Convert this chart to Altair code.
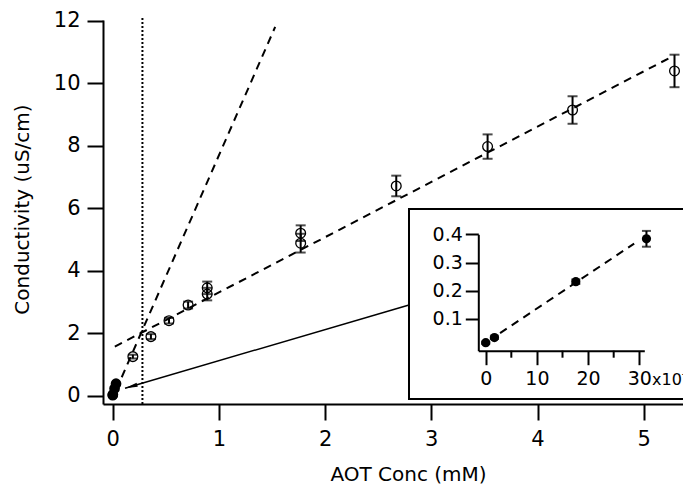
import altair as alt
import pandas as pd

# ---------------- data ----------------
# main series, open circles (AOT conc mM, conductivity uS/cm)
open_x = [0.19, 0.36, 0.53, 0.71, 0.89, 0.89, 1.77, 1.77, 2.67, 3.53, 4.33, 5.29]
open_y = [1.25, 1.89, 2.40, 2.90, 3.45, 3.25, 5.20, 4.88, 6.71, 7.97, 9.14, 10.39]
open_err = [0.06, 0.08, 0.09, 0.11, 0.20, 0.20, 0.25, 0.30, 0.33, 0.39, 0.44, 0.52]

# low-concentration series, filled circles (x in units of 1e-3 mM)
low_x = [0.0, 1.7, 17.6, 31.4]
low_y = [0.016, 0.034, 0.232, 0.384]
low_err = [0.004, 0.005, 0.008, 0.028]

# fitted lines (end points)
steep_x = [0.085, 1.53]
steep_y = [0.59, 11.8]
shallow_x = [0.02, 5.24]
shallow_y = [1.57, 10.8]
inset_fit_x = [2.8, 29.0]
inset_fit_y = [0.05, 0.367]

cmc_x = [0.28]

main_x_ticks = [0, 1, 2, 3, 4, 5]
main_y_ticks = [0, 2, 4, 6, 8, 10, 12]
inset_x_ticks = [0, 10, 20, 30]
inset_x_minor = [5, 15, 25]
inset_y_ticks = [0.1, 0.2, 0.3, 0.4]

# annotation anchors (data units of the main axes)
inset_box_x = [2.79]
inset_box_y = [5.97, -0.11]
arrow_x = [2.79, 0.116]
arrow_y = [2.90, 0.24]

# ---------------- layout ----------------
FONT = "DejaVu Sans"
W, H = 580, 384
X_DOM = [-0.0913, 5.37]
Y_DOM = [-0.266, 12.02]
IX_DOM = [-1.45, 30.98]
IY_DOM = [-0.0124, 0.4]
IX_RANGE = [375.3, 541.3]
IY_RANGE = [330.7, 214.3]

xs = alt.Scale(domain=X_DOM, nice=False, zero=False)
ys = alt.Scale(domain=Y_DOM, nice=False, zero=False)
ixs = alt.Scale(domain=IX_DOM, range=IX_RANGE, nice=False, zero=False)
iys = alt.Scale(domain=IY_DOM, range=IY_RANGE, nice=False, zero=False)

axis_common = dict(grid=False, domainColor="black", domainWidth=2, tickColor="black",
                   tickWidth=2, labelColor="black", labelFont=FONT, titleFont=FONT,
                   titleColor="black", titleFontWeight="normal")

main_xaxis = alt.Axis(values=main_x_ticks, tickSize=16, labelFontSize=21, labelPadding=8,
                      titleFontSize=20, titleX=305, titleY=76, titleBaseline="alphabetic",
                      orient="bottom", **axis_common)
main_yaxis = alt.Axis(values=main_y_ticks, tickSize=16, labelFontSize=21, labelPadding=7,
                      titleFontSize=20, titleX=-75, titleY=189, titleBaseline="alphabetic",
                      orient="left", **axis_common)
inset_xaxis = alt.Axis(values=inset_x_ticks, tickSize=14, labelFontSize=19, labelPadding=5,
                       orient="bottom", offset=-(H + 20 - 350.7), zindex=2, **axis_common)
inset_yaxis = alt.Axis(values=inset_y_ticks, tickSize=13, labelFontSize=19, labelPadding=3,
                       orient="left", offset=-IX_RANGE[0], zindex=2, **axis_common)

X_TITLE = "AOT Conc (mM)"
Y_TITLE = "Conductivity (uS/cm)"


def mx(f):
    return alt.X(f, type="quantitative", scale=xs, axis=main_xaxis, title=X_TITLE)


def my(f):
    return alt.Y(f, type="quantitative", scale=ys, axis=main_yaxis, title=Y_TITLE)


def ix(f):
    return alt.X(f, type="quantitative", scale=ixs, axis=inset_xaxis, title=None)


def iy(f):
    return alt.Y(f, type="quantitative", scale=iys, axis=inset_yaxis, title=None)


open_df = pd.DataFrame({"x": open_x, "y": open_y,
                        "lo": [a - b for a, b in zip(open_y, open_err)],
                        "hi": [a + b for a, b in zip(open_y, open_err)]})
low_main_df = pd.DataFrame({"x": [v * 1e-3 for v in low_x], "y": low_y})
low_df = pd.DataFrame({"x": low_x, "y": low_y,
                       "lo": [a - b for a, b in zip(low_y, low_err)],
                       "hi": [a + b for a, b in zip(low_y, low_err)]})

base_main = alt.Chart(open_df)

cmc = alt.Chart(pd.DataFrame({"x": cmc_x, "y": [Y_DOM[0]], "y2": [Y_DOM[1] + 0.08]})).mark_rule(
    color="black", strokeWidth=2, strokeDash=[2, 2]
).encode(x=mx("x"), y=my("y"), y2="y2:Q")


def dashed(xv, yv):
    return alt.Chart(pd.DataFrame({"x": xv, "y": yv})).mark_line(
        color="black", strokeWidth=2, strokeDash=[8, 6]
    ).encode(x=mx("x"), y=my("y"))


steep = dashed(steep_x, steep_y)
shallow = dashed(shallow_x, shallow_y)

bars = base_main.mark_rule(color="black", strokeWidth=2).encode(x=mx("x"), y=my("lo"), y2="hi:Q")
caps_hi = base_main.mark_tick(color="black", orient="horizontal", size=10, thickness=2).encode(
    x=mx("x"), y=my("hi"))
caps_lo = base_main.mark_tick(color="black", orient="horizontal", size=10, thickness=2).encode(
    x=mx("x"), y=my("lo"))
opens = base_main.mark_point(shape="circle", filled=False, color="black", size=95,
                             strokeWidth=1.3, opacity=1).encode(x=mx("x"), y=my("y"))

low_main = alt.Chart(low_main_df).mark_circle(color="black", size=115, opacity=1).encode(
    x=mx("x"), y=my("y"))

box = alt.Chart(pd.DataFrame({"x": inset_box_x, "x2": [X_DOM[1] + 0.3],
                              "y": [inset_box_y[0]], "y2": [inset_box_y[1]]})).mark_rect(
    fill="white", stroke="black", strokeWidth=2
).encode(x=mx("x"), x2="x2:Q", y=my("y"), y2="y2:Q")

arrow_df = pd.DataFrame({"x": arrow_x, "y": arrow_y, "o": [0, 1]})
arrow_line = alt.Chart(arrow_df).mark_line(color="black", strokeWidth=1.5).encode(
    x=mx("x"), y=my("y"), order="o:Q")
arrow_head = alt.Chart(arrow_df.iloc[[1]]).mark_point(
    shape="M0,0L0.34,2L-0.34,2Z", filled=True, color="black", size=160, angle=254, opacity=1
).encode(x=mx("x"), y=my("y"))

main = alt.layer(cmc, steep, shallow, bars, caps_hi, caps_lo, opens,
                 low_main, box, arrow_line, arrow_head)

# ---------------- inset ----------------
ibase = alt.Chart(low_df)
ifit = alt.Chart(pd.DataFrame({"x": inset_fit_x, "y": inset_fit_y})).mark_line(
    color="black", strokeWidth=2, strokeDash=[8, 6]
).encode(x=ix("x"), y=iy("y"))
ibars = ibase.mark_rule(color="black", strokeWidth=2).encode(x=ix("x"), y=iy("lo"), y2="hi:Q")
icaps_hi = ibase.mark_tick(color="black", orient="horizontal", size=9, thickness=2).encode(
    x=ix("x"), y=iy("hi"))
icaps_lo = ibase.mark_tick(color="black", orient="horizontal", size=9, thickness=2).encode(
    x=ix("x"), y=iy("lo"))
ipts = ibase.mark_circle(color="black", size=85, opacity=1).encode(x=ix("x"), y=iy("y"))
iminor = alt.Chart(pd.DataFrame({"x": inset_x_minor})).mark_rule(color="black", strokeWidth=2).encode(
    x=ix("x"), y=alt.value(IY_RANGE[0]), y2=alt.value(IY_RANGE[0] + 7))
ilabel = alt.Chart(pd.DataFrame({"x": [IX_DOM[1] + 1.5], "y": [IY_DOM[0]], "t": ["x10"]})).mark_text(
    align="left", baseline="alphabetic", font=FONT, fontSize=16, color="black", dy=34
).encode(x=ix("x"), y=iy("y"), text="t:N")
isup = alt.Chart(pd.DataFrame({"x": [IX_DOM[1] + 7.3], "y": [IY_DOM[0]], "t": ["-3"]})).mark_text(
    align="left", baseline="alphabetic", font=FONT, fontSize=10, color="black", dy=26
).encode(x=ix("x"), y=iy("y"), text="t:N")

inset = alt.layer(ifit, ibars, icaps_hi, icaps_lo, ipts, iminor, ilabel, isup)

chart = alt.layer(main, inset).resolve_scale(x="independent", y="independent").resolve_axis(
    x="independent", y="independent"
).properties(
    width=W, height=H,
    padding={"left": 95, "top": 12, "right": 0, "bottom": 80},
    autosize=alt.AutoSizeParams(type="none"),
    background="white",
).configure_view(stroke=None)

chart.save("out.html", embed_options={"renderer": "svg", "actions": False})
